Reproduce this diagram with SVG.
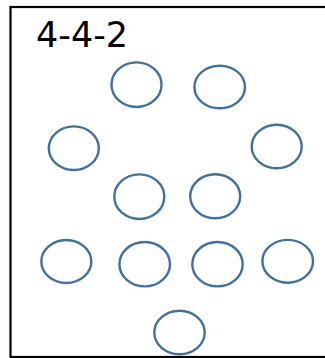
<svg xmlns="http://www.w3.org/2000/svg" width="325" height="358" viewBox="0 0 325 358">
<style>
.frame{fill:#fff;stroke:#000;stroke-width:2.2}
.p{fill:none;stroke:#41719c;stroke-width:2.4}
.t{font-family:"DejaVu Sans",Verdana,sans-serif;font-size:35px;fill:#000}
</style>
<rect class="frame" x="10.5" y="7" width="320" height="350"/>
<text class="t" x="36" y="47.3">4-4-2</text>
<g id="players">
<g id="p1"><ellipse class="p" cx="136.5" cy="84.7" rx="25" ry="22.3"/></g>
<g id="p2"><ellipse class="p" cx="219.7" cy="87" rx="25.3" ry="21.3"/></g>
<g id="p3"><ellipse class="p" cx="73.8" cy="148.2" rx="25" ry="21.8"/></g>
<g id="p4"><ellipse class="p" cx="276.7" cy="146.5" rx="25" ry="21.8"/></g>
<g id="p5"><ellipse class="p" cx="139.3" cy="196.7" rx="25" ry="22.3"/></g>
<g id="p6"><ellipse class="p" cx="215.2" cy="196.3" rx="25" ry="22"/></g>
<g id="p7"><ellipse class="p" cx="66.3" cy="261.5" rx="25" ry="21.5"/></g>
<g id="p8"><ellipse class="p" cx="144.7" cy="264.2" rx="25.3" ry="22.2"/></g>
<g id="p9"><ellipse class="p" cx="217.5" cy="264.2" rx="25.2" ry="22.2"/></g>
<g id="p10"><ellipse class="p" cx="287.7" cy="261.3" rx="25.3" ry="21.4"/></g>
<g id="p11"><ellipse class="p" cx="179.5" cy="332.5" rx="25.2" ry="21.8"/></g>
</g>
<g id="connectors"/>
</svg>
